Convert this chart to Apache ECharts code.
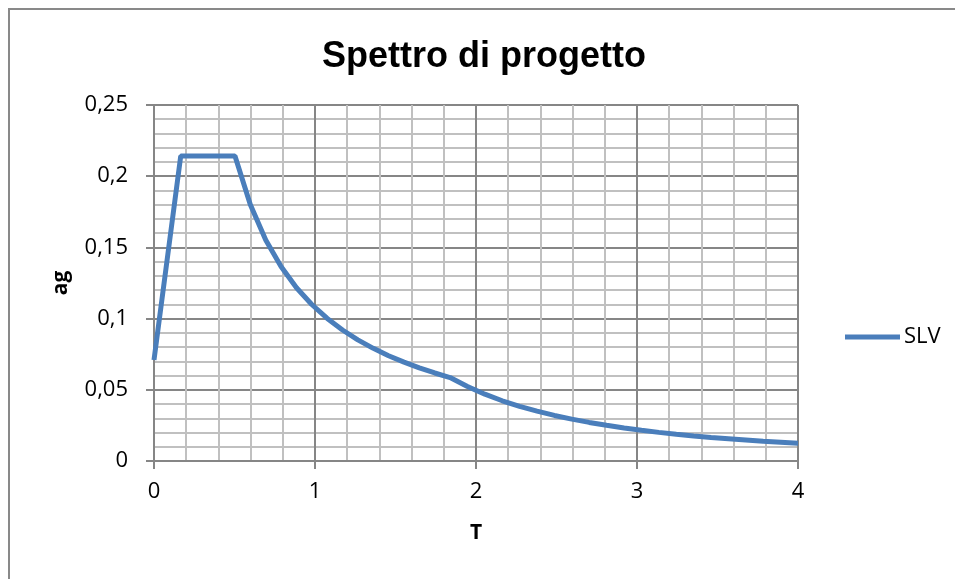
<!DOCTYPE html>
<html>
<head>
<meta charset="utf-8">
<script src="https://cdn.jsdelivr.net/npm/echarts@6/dist/echarts.min.js"></script>
<style>
html,body{margin:0;padding:0;background:#fff;}
#chart{width:955px;height:579px;}
</style>
</head>
<body>
<div id="chart"></div>
<script>
// Period T (s)
var periods = [0, 0.166, 0.503, 0.598, 0.694, 0.789, 0.885, 0.980, 1.076, 1.171, 1.266, 1.362, 1.457, 1.553, 1.648, 1.744, 1.839,
  1.947, 2.055, 2.163, 2.271, 2.379, 2.487, 2.595, 2.703, 2.811, 2.920, 3.028, 3.136, 3.244, 3.352, 3.460, 3.568, 3.676, 3.784, 3.892, 4.000];
// Spectral acceleration ag (SLV)
var slvValues = [0.0709, 0.2142, 0.2142, 0.1802, 0.1552, 0.1366, 0.1217, 0.1099, 0.1001, 0.0920, 0.0851, 0.0791, 0.0739, 0.0694, 0.0654, 0.0618, 0.0586,
  0.0523, 0.0469, 0.0423, 0.0384, 0.0350, 0.0320, 0.0294, 0.0271, 0.0251, 0.0232, 0.0216, 0.0201, 0.0188, 0.0176, 0.0165, 0.0156, 0.0147, 0.0138, 0.0131, 0.0124];
var seriesName = 'SLV';
var titleText = 'Spettro di progetto';
var xName = 'T';
var yName = 'ag';

var data = periods.map(function (t, i) { return [t, slvValues[i]]; });
var fmt = function (v) { return String(+v.toFixed(4)).replace('.', ','); };
var labelFont = '"Open Sans", "Liberation Sans", sans-serif';

var chart = echarts.init(document.getElementById('chart'), null, {renderer: 'canvas'});
chart.setOption({
  animation: false,
  backgroundColor: '#ffffff',
  graphic: [{
    type: 'rect', silent: true, z: -1,
    shape: {x: 9, y: 9, width: 1000, height: 1000},
    style: {fill: 'none', stroke: '#898989', lineWidth: 2}
  }],
  title: {
    text: titleText,
    left: 322, top: 39,
    padding: 0,
    textStyle: {fontFamily: '"Liberation Sans", Arial, sans-serif', fontWeight: 'bold', fontSize: 36, color: '#000'}
  },
  legend: {
    data: [seriesName],
    left: 845, top: 326, padding: 0,
    icon: 'rect', itemWidth: 55, itemHeight: 5, itemGap: 0,
    textStyle: {fontFamily: labelFont, fontSize: 22, color: '#000', padding: [0, 0, 0, -1]}
  },
  grid: {left: 154, right: 157, top: 105, bottom: 118, containLabel: false},
  xAxis: {
    type: 'value', min: 0, max: 4, interval: 1,
    name: xName, nameLocation: 'middle', nameGap: 62,
    nameTextStyle: {fontFamily: labelFont, fontWeight: 'bold', fontSize: 21, color: '#000'},
    axisLine: {show: true, lineStyle: {color: '#868686', width: 2}},
    axisTick: {show: true, length: 8, lineStyle: {color: '#868686', width: 2}},
    axisLabel: {formatter: fmt, margin: 20, fontFamily: labelFont, fontSize: 22, color: '#000'},
    splitLine: {show: true, lineStyle: {color: '#868686', width: 2}},
    minorTick: {show: false, splitNumber: 5},
    minorSplitLine: {show: true, lineStyle: {color: '#c0c0c0', width: 2}}
  },
  yAxis: {
    type: 'value', min: 0, max: 0.25, interval: 0.05,
    name: yName, nameLocation: 'middle', nameGap: 82, nameRotate: 90,
    nameTextStyle: {fontFamily: labelFont, fontWeight: 'bold', fontSize: 21, color: '#000'},
    axisLine: {show: true, lineStyle: {color: '#868686', width: 2}},
    axisTick: {show: true, length: 8, lineStyle: {color: '#868686', width: 2}},
    axisLabel: {formatter: fmt, margin: 26, fontFamily: labelFont, fontSize: 22, color: '#000'},
    splitLine: {show: true, lineStyle: {color: '#868686', width: 2}},
    minorTick: {show: false, splitNumber: 5},
    minorSplitLine: {show: true, lineStyle: {color: '#c0c0c0', width: 2}}
  },
  series: [{
    name: seriesName,
    type: 'line',
    data: data,
    showSymbol: false,
    symbol: 'none',
    smooth: false,
    lineStyle: {color: '#4a7ebb', width: 5},
    itemStyle: {color: '#4a7ebb'},
    z: 5
  }]
});
</script>
</body>
</html>
